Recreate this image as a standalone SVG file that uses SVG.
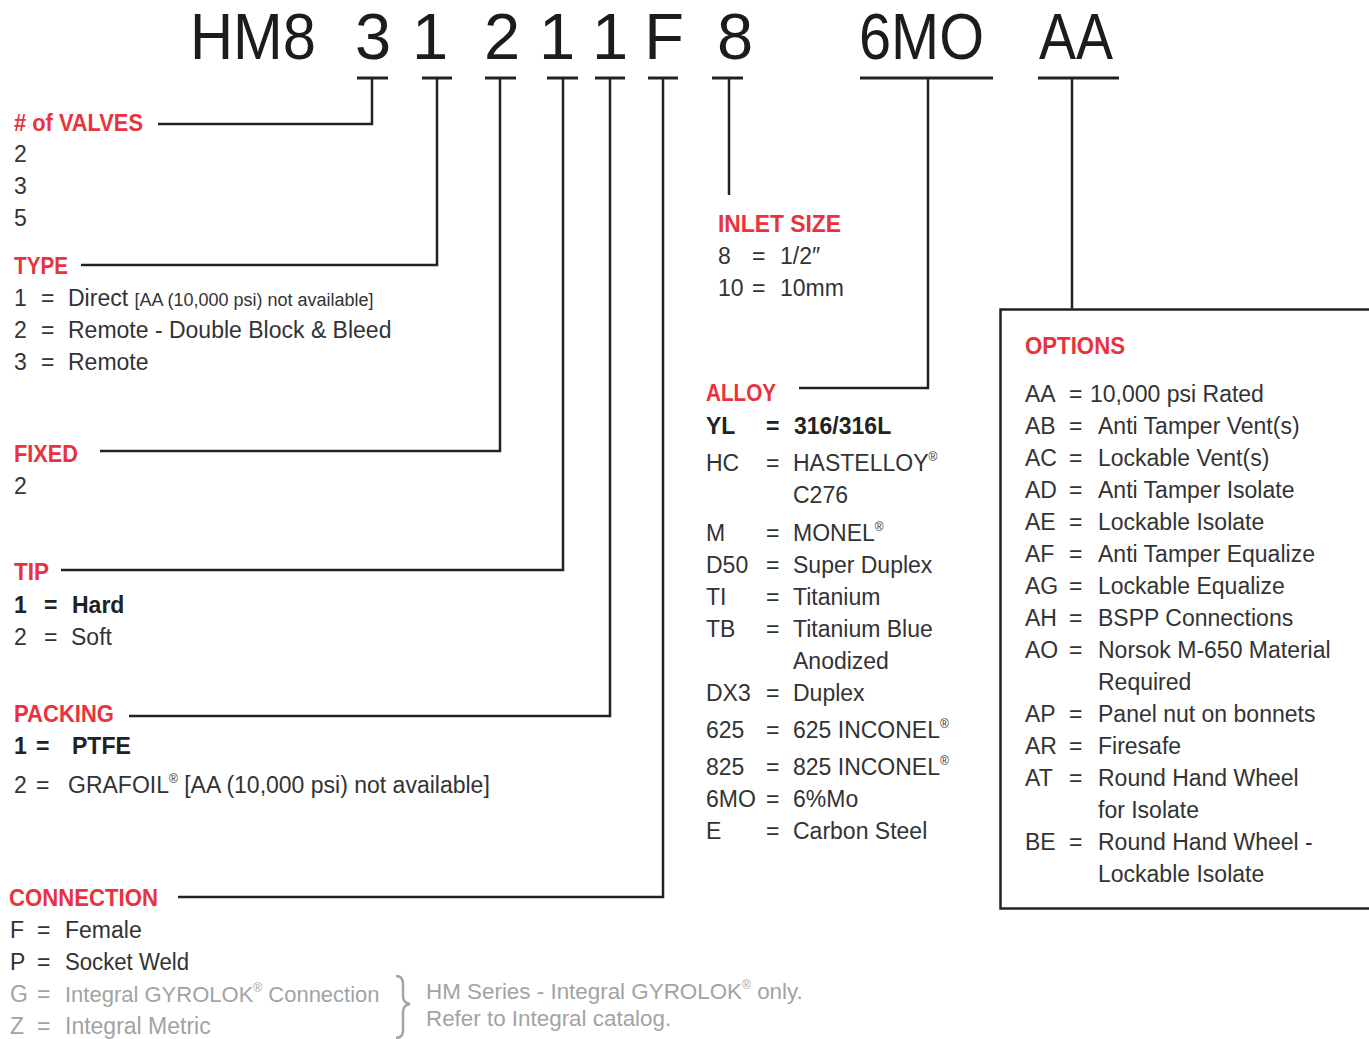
<svg xmlns="http://www.w3.org/2000/svg" width="1369" height="1039" viewBox="0 0 1369 1039">
<style>
text{font-family:"Liberation Sans",Arial,sans-serif}
.h{font-size:65px;fill:#1c1c1c}
.r{font-size:23px;fill:#e8333d;font-weight:bold}
.t{font-size:23px;fill:#333}
.b{font-weight:bold;fill:#222}
.g{fill:#a3a3a3}
.s{font-size:18px}
.sup{font-size:12px}
.c{fill:none;stroke:#222;stroke-width:2.5}
.bar{stroke:#222;stroke-width:3}
</style>
<rect width="1369" height="1039" fill="#fff"/>
<g id="header">
<text class="h" x="190" y="59" textLength="126" lengthAdjust="spacingAndGlyphs">HM8</text>
<text class="h" x="373" y="59" text-anchor="middle">3</text>
<text class="h" x="430" y="59" text-anchor="middle">1</text>
<text class="h" x="502" y="59" text-anchor="middle">2</text>
<text class="h" x="557" y="59" text-anchor="middle">1</text>
<text class="h" x="610" y="59" text-anchor="middle">1</text>
<text class="h" x="664" y="59" text-anchor="middle">F</text>
<text class="h" x="735" y="59" text-anchor="middle">8</text>
<text class="h" x="859" y="59" textLength="125" lengthAdjust="spacingAndGlyphs">6MO</text>
<text class="h" x="1039" y="59" textLength="74" lengthAdjust="spacingAndGlyphs">AA</text>
<line class="bar" x1="357" y1="78" x2="388" y2="78"/>
<line class="bar" x1="422" y1="78" x2="452" y2="78"/>
<line class="bar" x1="485" y1="78" x2="516" y2="78"/>
<line class="bar" x1="547" y1="78" x2="578" y2="78"/>
<line class="bar" x1="595" y1="78" x2="625" y2="78"/>
<line class="bar" x1="648" y1="78" x2="678" y2="78"/>
<line class="bar" x1="712" y1="78" x2="743" y2="78"/>
<line class="bar" x1="860" y1="78" x2="993" y2="78"/>
<line class="bar" x1="1038" y1="78" x2="1119" y2="78"/>
</g>
<g id="connectors">
<polyline class="c" points="372,78 372,124 158,124"/>
<polyline class="c" points="437,78 437,265 81,265"/>
<polyline class="c" points="500,78 500,451 100,451"/>
<polyline class="c" points="563,78 563,570 61,570"/>
<polyline class="c" points="610,78 610,716 129,716"/>
<polyline class="c" points="663,78 663,897 178,897"/>
<polyline class="c" points="729,78 729,195"/>
<polyline class="c" points="928,78 928,388 799,388"/>
<polyline class="c" points="1072,78 1072,309"/>
</g>
<g id="valves">
<text class="r" x="14" y="131" textLength="129" lengthAdjust="spacingAndGlyphs"># of VALVES</text>
<text class="t" x="14" y="162">2</text>
<text class="t" x="14" y="194">3</text>
<text class="t" x="14" y="226">5</text>
</g>
<g id="type">
<text class="r" x="14" y="274" textLength="54" lengthAdjust="spacingAndGlyphs">TYPE</text>
<text class="t" x="14" y="306">1</text><text class="t" x="41" y="306">=</text><text class="t" x="68" y="306">Direct <tspan class="s">[AA (10,000 psi) not available]</tspan></text>
<text class="t" x="14" y="338">2</text><text class="t" x="41" y="338">=</text><text class="t" x="68" y="338">Remote - Double Block &amp; Bleed</text>
<text class="t" x="14" y="370">3</text><text class="t" x="41" y="370">=</text><text class="t" x="68" y="370">Remote</text>
</g>
<g id="fixed">
<text class="r" x="14" y="462" textLength="64" lengthAdjust="spacingAndGlyphs">FIXED</text>
<text class="t" x="14" y="494">2</text>
</g>
<g id="tip">
<text class="r" x="14" y="580" textLength="35" lengthAdjust="spacingAndGlyphs">TIP</text>
<text class="t b" x="14" y="613">1</text><text class="t b" x="44" y="613">=</text><text class="t b" x="72" y="613">Hard</text>
<text class="t" x="14" y="645">2</text><text class="t" x="44" y="645">=</text><text class="t" x="71" y="645">Soft</text>
</g>
<g id="packing">
<text class="r" x="14" y="722" textLength="100" lengthAdjust="spacingAndGlyphs">PACKING</text>
<text class="t b" x="14" y="754">1</text><text class="t b" x="36" y="754">=</text><text class="t b" x="72" y="754">PTFE</text>
<text class="t" x="14" y="793">2</text><text class="t" x="36" y="793">=</text><text class="t" x="68" y="793">GRAFOIL<tspan class="sup" dy="-10">®</tspan><tspan dy="10"> [AA (10,000 psi) not available]</tspan></text>
</g>
<g id="connection">
<text class="r" x="9" y="906" textLength="149" lengthAdjust="spacingAndGlyphs">CONNECTION</text>
<text class="t" x="10" y="938">F</text><text class="t" x="37" y="938">=</text><text class="t" x="65" y="938">Female</text>
<text class="t" x="10" y="970">P</text><text class="t" x="37" y="970">=</text><text class="t" x="65" y="970" textLength="124" lengthAdjust="spacingAndGlyphs">Socket Weld</text>
<text class="t g" x="10" y="1002">G</text><text class="t g" x="37" y="1002">=</text><text class="t g" x="65" y="1002" style="font-size:22px">Integral GYROLOK<tspan class="sup" dy="-10">®</tspan><tspan dy="10"> Connection</tspan></text>
<text class="t g" x="10" y="1034">Z</text><text class="t g" x="37" y="1034">=</text><text class="t g" x="65" y="1034">Integral Metric</text>
<path d="M396,976 Q403,976 403,984 L403,996 Q403,1003 410,1004 Q403,1005 403,1012 L403,1030 Q403,1038 396,1038" fill="none" stroke="#a3a3a3" stroke-width="2.5"/>
<text class="t g" x="426" y="999" style="font-size:22.4px">HM Series - Integral GYROLOK<tspan class="sup" dy="-10">®</tspan><tspan dy="10"> only.</tspan></text>
<text class="t g" x="426" y="1026" style="font-size:22.4px">Refer to Integral catalog.</text>
</g>
<g id="inlet">
<text class="r" x="718" y="232" textLength="123" lengthAdjust="spacingAndGlyphs">INLET SIZE</text>
<text class="t" x="718" y="264">8</text><text class="t" x="752" y="264">=</text><text class="t" x="780" y="264">1/2″</text>
<text class="t" x="718" y="296">10</text><text class="t" x="752" y="296">=</text><text class="t" x="780" y="296">10mm</text>
</g>
<g id="alloy">
<text class="r" x="706" y="401" textLength="70" lengthAdjust="spacingAndGlyphs">ALLOY</text>
<text class="t b" x="706" y="434">YL</text><text class="t b" x="766" y="434">=</text><text class="t b" x="794" y="434">316/316L</text>
<text class="t" x="706" y="471">HC</text><text class="t" x="766" y="471">=</text><text class="t" x="793" y="471">HASTELLOY<tspan class="sup" dy="-10">®</tspan></text>
<text class="t" x="793" y="503">C276</text>
<text class="t" x="706" y="541">M</text><text class="t" x="766" y="541">=</text><text class="t" x="793" y="541">MONEL<tspan class="sup" dy="-10">®</tspan></text>
<text class="t" x="706" y="573">D50</text><text class="t" x="766" y="573">=</text><text class="t" x="793" y="573">Super Duplex</text>
<text class="t" x="706" y="605">TI</text><text class="t" x="766" y="605">=</text><text class="t" x="793" y="605">Titanium</text>
<text class="t" x="706" y="637">TB</text><text class="t" x="766" y="637">=</text><text class="t" x="793" y="637">Titanium Blue</text>
<text class="t" x="793" y="669">Anodized</text>
<text class="t" x="706" y="701">DX3</text><text class="t" x="766" y="701">=</text><text class="t" x="793" y="701">Duplex</text>
<text class="t" x="706" y="738">625</text><text class="t" x="766" y="738">=</text><text class="t" x="793" y="738">625 INCONEL<tspan class="sup" dy="-10">®</tspan></text>
<text class="t" x="706" y="775">825</text><text class="t" x="766" y="775">=</text><text class="t" x="793" y="775">825 INCONEL<tspan class="sup" dy="-10">®</tspan></text>
<text class="t" x="706" y="807">6MO</text><text class="t" x="766" y="807">=</text><text class="t" x="793" y="807">6%Mo</text>
<text class="t" x="706" y="839">E</text><text class="t" x="766" y="839">=</text><text class="t" x="793" y="839">Carbon Steel</text>
</g>
<g id="options">
<rect x="1000.5" y="309.5" width="400" height="599" fill="none" stroke="#222" stroke-width="2.5"/>
<text class="r" x="1025" y="354" textLength="100" lengthAdjust="spacingAndGlyphs">OPTIONS</text>
<text class="t" x="1025" y="402">AA</text><text class="t" x="1069" y="402">=</text><text class="t" x="1090" y="402">10,000 psi Rated</text>
<text class="t" x="1025" y="434">AB</text><text class="t" x="1069" y="434">=</text><text class="t" x="1098" y="434">Anti Tamper Vent(s)</text>
<text class="t" x="1025" y="466">AC</text><text class="t" x="1069" y="466">=</text><text class="t" x="1098" y="466">Lockable Vent(s)</text>
<text class="t" x="1025" y="498">AD</text><text class="t" x="1069" y="498">=</text><text class="t" x="1098" y="498">Anti Tamper Isolate</text>
<text class="t" x="1025" y="530">AE</text><text class="t" x="1069" y="530">=</text><text class="t" x="1098" y="530">Lockable Isolate</text>
<text class="t" x="1025" y="562">AF</text><text class="t" x="1069" y="562">=</text><text class="t" x="1098" y="562">Anti Tamper Equalize</text>
<text class="t" x="1025" y="594">AG</text><text class="t" x="1069" y="594">=</text><text class="t" x="1098" y="594">Lockable Equalize</text>
<text class="t" x="1025" y="626">AH</text><text class="t" x="1069" y="626">=</text><text class="t" x="1098" y="626">BSPP Connections</text>
<text class="t" x="1025" y="658">AO</text><text class="t" x="1069" y="658">=</text><text class="t" x="1098" y="658">Norsok M-650 Material</text>
<text class="t" x="1098" y="690">Required</text>
<text class="t" x="1025" y="722">AP</text><text class="t" x="1069" y="722">=</text><text class="t" x="1098" y="722">Panel nut on bonnets</text>
<text class="t" x="1025" y="754">AR</text><text class="t" x="1069" y="754">=</text><text class="t" x="1098" y="754">Firesafe</text>
<text class="t" x="1025" y="786">AT</text><text class="t" x="1069" y="786">=</text><text class="t" x="1098" y="786">Round Hand Wheel</text>
<text class="t" x="1098" y="818">for Isolate</text>
<text class="t" x="1025" y="850">BE</text><text class="t" x="1069" y="850">=</text><text class="t" x="1098" y="850">Round Hand Wheel -</text>
<text class="t" x="1098" y="882">Lockable Isolate</text>
</g>
</svg>
